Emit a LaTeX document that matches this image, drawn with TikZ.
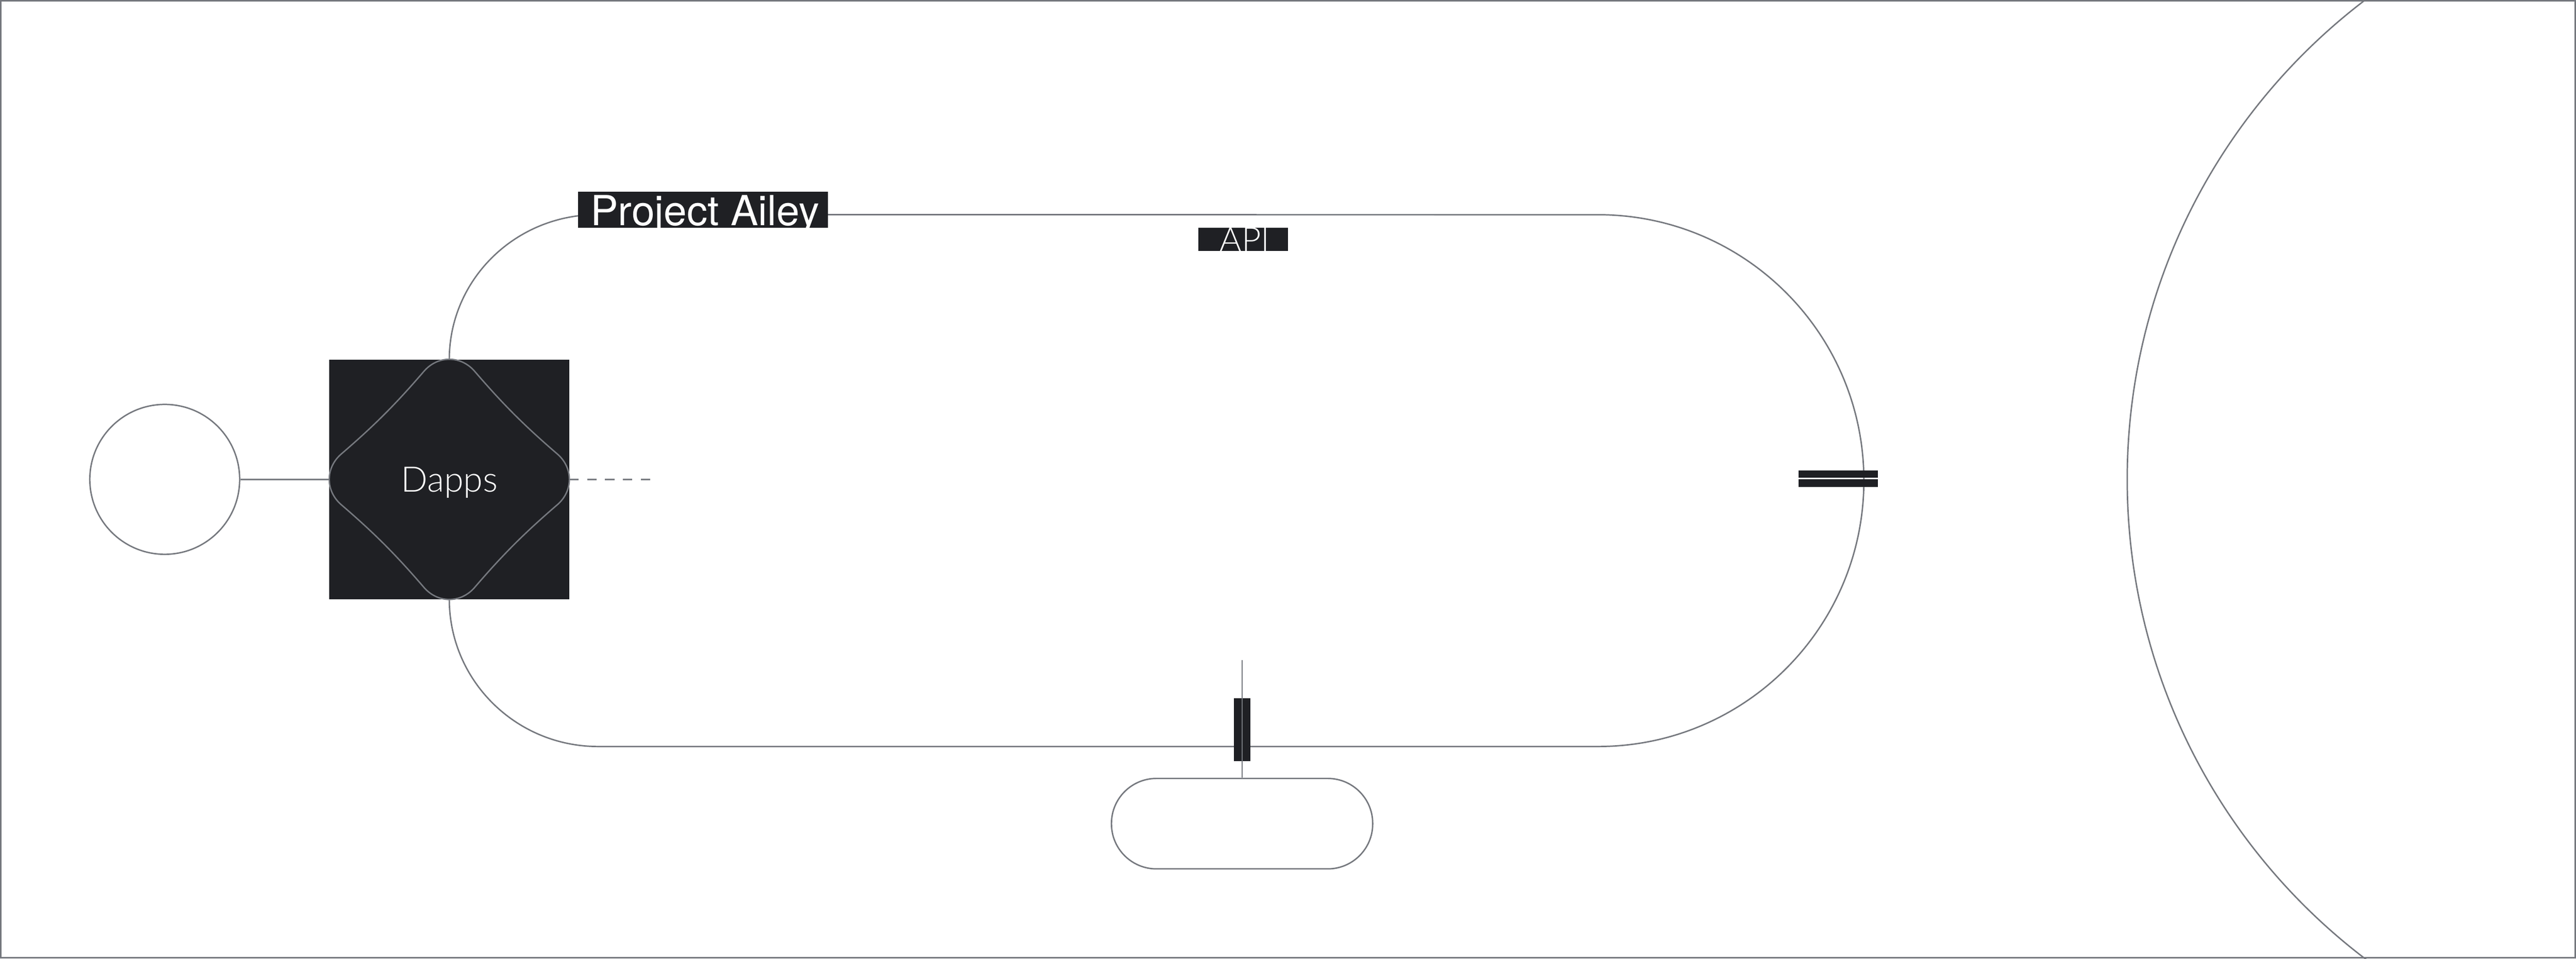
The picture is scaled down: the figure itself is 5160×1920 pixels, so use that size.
\documentclass[tikz,border=0pt]{standalone}
\usepackage{fontspec}
\setmainfont{TeX Gyre Heros}
\newfontfamily\lightfont{Lato Light}
\usetikzlibrary{positioning}
\definecolor{ink}{HTML}{1F2024}
\definecolor{wiregrey}{HTML}{75787E}

\begin{document}
\begin{tikzpicture}[x=0.01cm, y=0.01cm,
    wireline/.style={draw=wiregrey, line width=0.8pt},
    darkbox/.style={fill=ink, inner sep=0pt, outer sep=0pt},
    tagtext/.style={text=white, inner sep=0pt, anchor=base west}]
  \useasboundingbox (0,0) rectangle (5160,1920);
  \draw[wireline, line width=1pt] (1.75,1.75) rectangle (5158.25,1918.25);
  % large arc at the right edge
  \begin{scope}
    \clip (0,0) rectangle (5160,1920);
    \draw[wireline] (5466,960) circle [radius=1205];
  \end{scope}

  \node (src) [circle, wireline, minimum size=3cm, inner sep=0pt] at (330,960) {};
  \node (dapps) [darkbox, minimum size=4.8cm, text depth=0pt, text=white,
    font=\lightfont\fontsize{20pt}{24pt}\selectfont] at (900,960) {Dapps};
  \foreach \a in {0,90,180,270}
    \draw[wireline, shift={(dapps.center)}, rotate=\a]
      (-52,215) .. controls (-24,249) and (24,249) .. (52,215)
      .. controls (108,150) and (150,108) .. (215,52);

  % the loop
  \coordinate (loopne) at (3201,1490);
  \coordinate (loopsw) at (1198,425);
  \draw[wireline] (dapps.north) arc[start angle=180, end angle=90, x radius=296, y radius=290]
    -- (loopne) arc[start angle=90, end angle=-90, radius=532.5]
    -- (loopsw) arc[start angle=270, end angle=180, x radius=298, y radius=295];
  \draw[wireline] (src) -- (dapps);
  \coordinate [right=1.79cm of dapps.east] (dashend);
  \draw[wireline, dash pattern=on 5.4pt off 4.8pt] (dapps.east) -- (dashend);

  % labels
  \node (ailey) [darkbox, minimum width=5cm, minimum height=0.72cm] at (1408,1500) {};
  \begin{scope}
    \clip (ailey.south west) rectangle (ailey.north east);
    \node (aileytext) [tagtext, font=\fontsize{23.6pt}{28pt}\selectfont] at (1182,1469) {Project Ailey};
  \end{scope}
  \node (api) [darkbox, minimum width=1.8cm, minimum height=0.47cm] at (2490,1440.5) {};
  \begin{scope}
    \clip (api.south west) rectangle (api.north east);
    \node (apitext) [tagtext, font=\lightfont\fontsize{19pt}{23pt}\selectfont] at (2443,1417) {API};
  \end{scope}

  % taps on the loop
  \node (pill) [wireline, rounded corners=0.9cm, minimum width=5.23cm, minimum height=1.81cm,
    inner sep=0pt] at (2488,270.5) {};
  \node (tap) [darkbox, minimum width=0.33cm, minimum height=1.26cm] at (2488,459) {};
  \coordinate (taptop) at (2488,598);
  \draw[wireline] (taptop) -- (pill.north);
  \node (gateup) [darkbox, minimum width=1.59cm, minimum height=0.15cm] at (3682.5,970.5) {};
  \node (gatedown) [darkbox, minimum width=1.59cm, minimum height=0.15cm, below=0.03cm of gateup] {};
\end{tikzpicture}
\end{document}
